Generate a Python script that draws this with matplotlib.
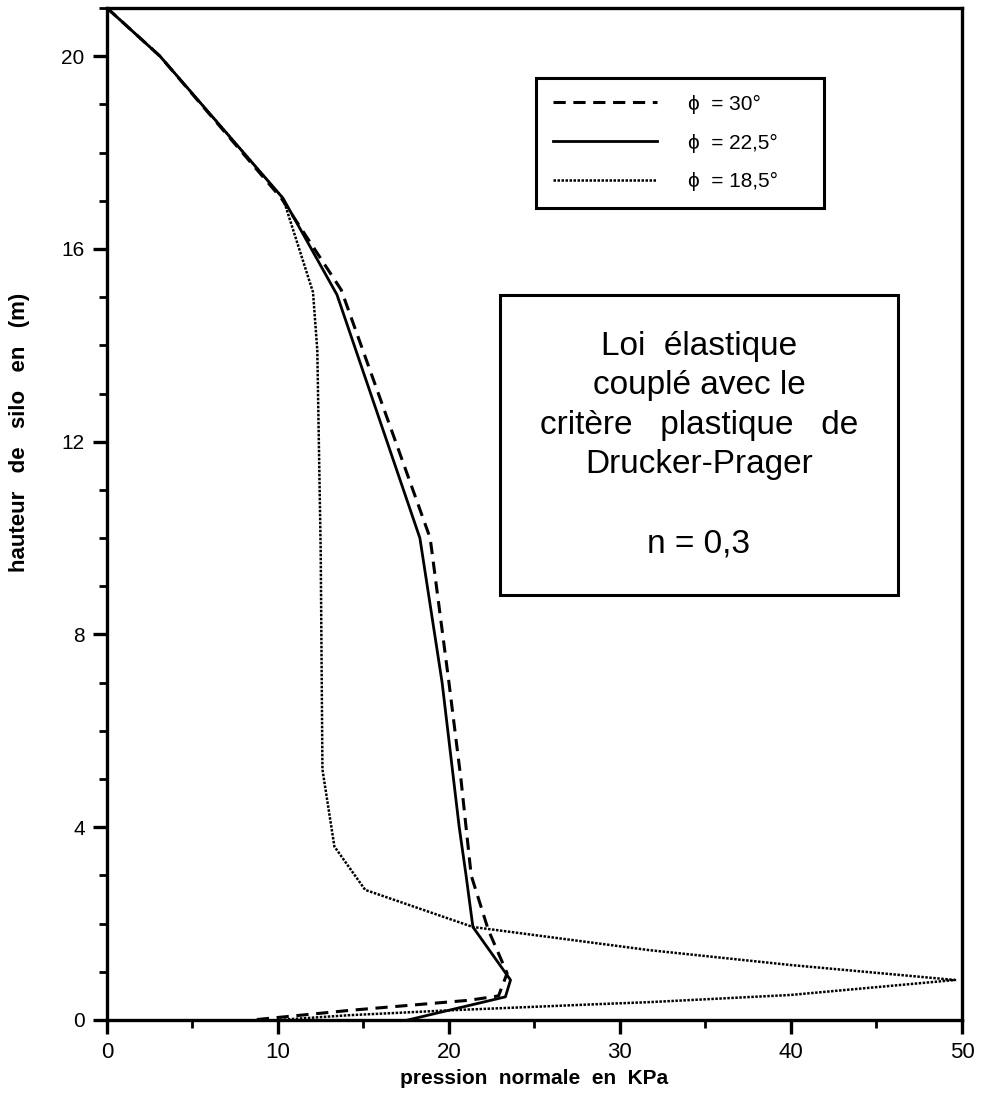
import matplotlib
matplotlib.use('Agg')
import matplotlib.pyplot as plt
from matplotlib.lines import Line2D
from matplotlib.patches import Rectangle
from matplotlib.ticker import MultipleLocator

plt.rcParams['font.family'] = ['Liberation Sans', 'DejaVu Sans']

# pression normale (KPa) / hauteur (m)
p_30 = [0, 3.1, 10.2, 13.7, 18.9, 20.0, 20.7, 21.3, 22.3, 23.4, 22.9, 21.2, 14.2, 8.5]
h_30 = [21, 20, 17.05, 15.15, 10.0, 7.0, 5.0, 3.0, 1.87, 0.97, 0.5, 0.41, 0.2, 0.0]

p_225 = [0, 3.1, 10.3, 13.45, 18.3, 19.6, 20.6, 21.0, 21.4, 23.6, 23.3, 17.6]
h_225 = [21, 20, 17.05, 15.05, 10.0, 7.0, 4.0, 3.0, 1.93, 0.83, 0.48, 0.0]

p_185 = [0, 3.1, 10.3, 12.05, 12.3, 12.5, 12.6, 13.3, 15.1, 21.4, 31.7, 40.0, 49.6,
         40.0, 31.7, 28.8, 20.0, 14.2, 10.0]
h_185 = [21, 20, 17.05, 15.1, 13.9, 9.7, 5.2, 3.6, 2.7, 1.93, 1.45, 1.14, 0.83,
         0.52, 0.37, 0.33, 0.2, 0.1, 0.0]

labels = ['ϕ  = 30°        ', 'ϕ  = 22,5°     ', 'ϕ  = 18,5°     ']
box_lines = ['Loi  élastique', 'couplé avec le', 'critère   plastique   de',
             'Drucker-Prager', '', 'n = 0,3']

fig = plt.figure(figsize=(9.85, 10.93), dpi=100)
ax = fig.add_axes([0.1086, 0.0668, 0.868, 0.9259])

ax.plot(p_30, h_30, color='black', lw=2.2, linestyle=(0, (4, 2.5)))
ax.plot(p_225, h_225, color='black', lw=2.0, linestyle='-')
ax.plot(p_185, h_185, color='black', lw=1.8, linestyle=(0, (1, 0.6)))

ax.set_xlim(0, 50)
ax.set_ylim(0, 21)
ax.set_xticks([0, 10, 20, 30, 40, 50])
ax.set_yticks([0, 4, 8, 12, 16, 20])
ax.xaxis.set_minor_locator(MultipleLocator(5))
ax.yaxis.set_minor_locator(MultipleLocator(1))
ax.tick_params(which='major', direction='out', length=10, width=2.4, pad=6)
ax.tick_params(axis='x', labelsize=16)
ax.tick_params(axis='y', labelsize=15)
ax.tick_params(which='minor', direction='out', length=6, width=2.0)
for s in ax.spines.values():
    s.set_linewidth(2.4)

ax.set_xlabel('pression  normale  en  KPa', fontsize=15, fontweight='bold', labelpad=4)
ax.set_ylabel('hauteur   de   silo   en   (m)', fontsize=16, fontweight='bold')
ax.yaxis.set_label_coords(-0.09, 0.581)

# legende
handles = [Line2D([], [], color='black', lw=2.2, linestyle=(0, (4, 2.5))),
           Line2D([], [], color='black', lw=2.0),
           Line2D([], [], color='black', lw=1.8, linestyle=(0, (1, 0.6)))]
leg = ax.legend(handles, labels, loc='upper left', bbox_to_anchor=(0.5018, 0.9308),
                fontsize=15, handlelength=5.0, handletextpad=1.5, labelspacing=0.95,
                borderpad=0.8, borderaxespad=0, fancybox=False, framealpha=1,
                edgecolor='black')
leg.get_frame().set_linewidth(2.2)

# cadre de texte
ax.add_patch(Rectangle((0.4596, 0.42), 0.4655, 0.2964, transform=ax.transAxes,
                       fill=False, edgecolor='black', lw=2.2))
ax.text(0.6924, 0.568, '\n'.join(box_lines), transform=ax.transAxes,
        ha='center', va='center', fontsize=24, linespacing=1.36)

fig.savefig('out.png', dpi=100)
